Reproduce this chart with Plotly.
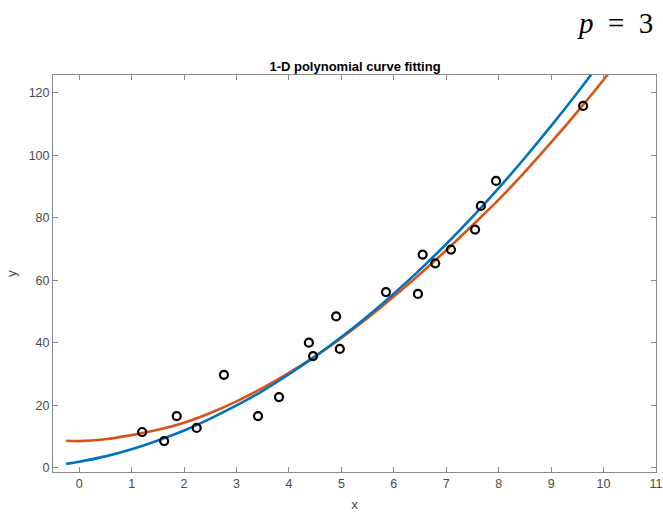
import plotly.graph_objects as go

# ---- data ----
data_x = [1.20, 1.62, 1.86, 2.24, 2.76, 3.41, 3.81, 4.38, 4.46, 4.90,
          4.97, 5.85, 6.46, 6.55, 6.79, 7.09, 7.55, 7.66, 7.95, 9.61]
data_y = [11.4, 8.5, 16.5, 12.7, 29.7, 16.5, 22.6, 40.0, 35.7, 48.4,
          38.0, 56.2, 55.6, 68.2, 65.4, 69.8, 76.2, 83.8, 91.8, 115.8]

curve_x = [-0.25, 0, 0.5, 1, 1.5, 2, 2.5, 3, 3.5, 4, 4.5, 5, 5.5, 6,
           6.5, 7, 7.5, 8, 8.5, 9, 9.5, 10, 10.5]
# blue curve
fit_a = [1.2, 1.9, 3.6, 5.9, 8.7, 11.9, 15.7, 19.9, 24.6, 29.9, 35.6, 41.8,
         48.5, 55.7, 63.4, 71.6, 80.3, 89.5, 99.2, 109.4, 120.0, 131.2, 142.9]
# red curve
fit_b = [8.6, 8.5, 9.1, 10.4, 12.1, 14.4, 17.5, 21.2, 25.5, 30.3, 35.6, 41.5,
         47.9, 54.8, 62.0, 69.6, 77.6, 85.8, 94.7, 104.1, 113.9, 124.2, 135.0]

x_ticks = list(range(0, 12))
y_ticks = list(range(0, 121, 20))

AX = "#8a8a8a"
TXT = "#4a4a4a"
FONT = "Liberation Sans, Arial, Helvetica, sans-serif"

fig = go.Figure()
fig.add_trace(go.Scatter(x=curve_x, y=fit_b, mode="lines",
                         line=dict(color="#D95319", width=2.6, shape="spline"),
                         showlegend=False))
fig.add_trace(go.Scatter(x=curve_x, y=fit_a, mode="lines",
                         line=dict(color="#0072BD", width=2.6, shape="spline"),
                         showlegend=False))
fig.add_trace(go.Scatter(x=data_x, y=data_y, mode="markers",
                         marker=dict(symbol="circle-open", size=8, color="black",
                                     line=dict(width=2.2, color="black")),
                         showlegend=False))

axis_common = dict(ticks="inside", ticklen=5, tickwidth=1, tickcolor=AX,
                   showline=True, linecolor=AX, linewidth=1, mirror="ticks",
                   showgrid=False, zeroline=False, automargin=False,
                   tickfont=dict(family=FONT, size=12.5, color=TXT))

fig.update_layout(
    width=663, height=512, autosize=False,
    margin=dict(l=53, r=7, t=75, b=40),
    paper_bgcolor="white", plot_bgcolor="white",
    font=dict(family=FONT, color=TXT),
    title=dict(text="<b>1-D polynomial curve fitting</b>",
               x=355 / 663, xanchor="center", y=1 - 66 / 512, yanchor="middle",
               font=dict(family=FONT, size=13, color="black")),
    xaxis=dict(range=[-0.5, 11], tickvals=x_ticks,
               title=dict(text="x", standoff=12,
                          font=dict(family=FONT, size=13.5, color=TXT)),
               **axis_common),
    yaxis=dict(range=[-1.4, 125.7], tickvals=y_ticks,
               title=dict(text="y", standoff=8,
                          font=dict(family=FONT, size=13.5, color=TXT)),
               **axis_common),
    annotations=[dict(text="<i>p</i>  =  3", xref="paper", yref="paper",
                      x=(655 - 53) / 603, xanchor="right",
                      y=1 + (75 - 23) / 397, yanchor="middle",
                      showarrow=False,
                      font=dict(family="Liberation Serif, DejaVu Serif, serif",
                                size=29, color="black"))],
)

fig.write_html("out.html",
               config={"displayModeBar": False},
               post_script="document.body.style.margin='0';"
                           "document.body.style.overflow='hidden';")
